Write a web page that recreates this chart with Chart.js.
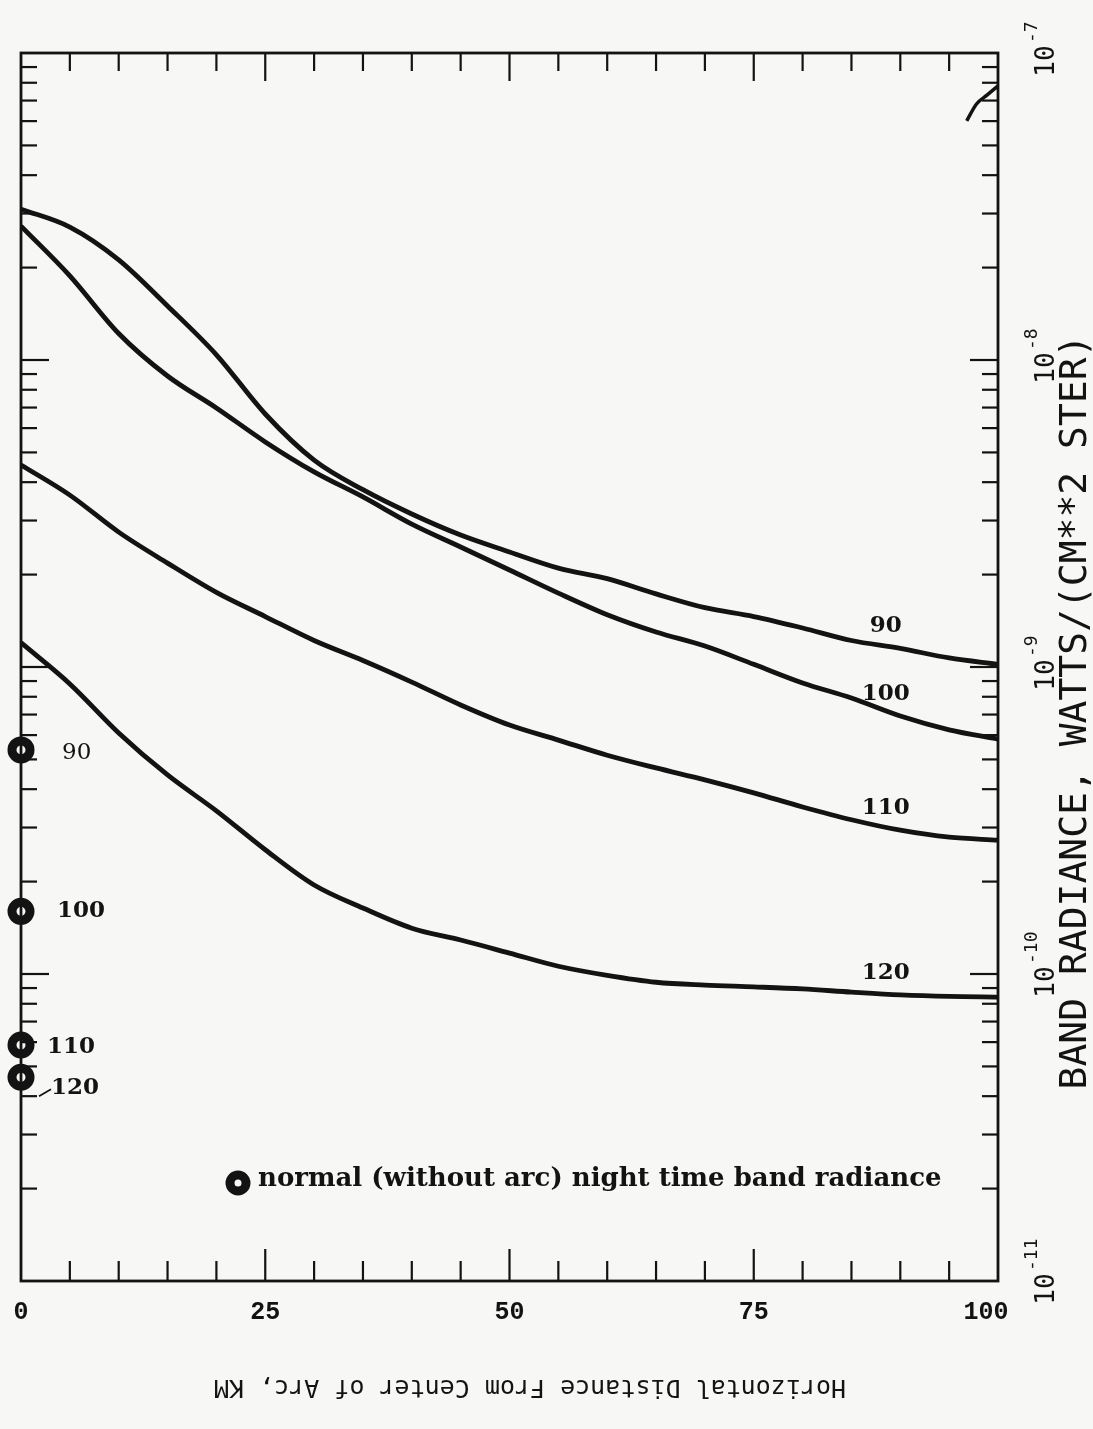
<!DOCTYPE html>
<html>
<head>
<meta charset="utf-8">
<title>Band radiance vs horizontal distance from arc</title>
<script src="https://cdn.jsdelivr.net/npm/chart.js@4.4.0/dist/chart.umd.min.js"></script>
<style>
  html, body { margin: 0; padding: 0; background: #f7f7f5; }
  #wrap { width: 1093px; height: 1429px; }
</style>
</head>
<body>
<div id="wrap"><canvas id="radChart" width="1093" height="1429"></canvas></div>
<script>
// horizontal distance from the centre of the arc, km
const distanceKm = [0, 5, 10, 15, 20, 25, 30, 35, 40, 45, 50, 55, 60, 65, 70, 75, 80, 85, 90, 95, 100];

// band radiance, watts/(cm**2 ster), one curve per altitude
const rad90  = [3.10e-8, 2.71e-8, 2.12e-8, 1.50e-8, 1.04e-8, 6.67e-9, 4.72e-9, 3.78e-9, 3.15e-9, 2.69e-9, 2.37e-9,
                2.10e-9, 1.94e-9, 1.73e-9, 1.56e-9, 1.46e-9, 1.34e-9, 1.22e-9, 1.15e-9, 1.07e-9, 1.02e-9];
const rad100 = [2.73e-8, 1.88e-8, 1.22e-8, 8.87e-9, 6.98e-9, 5.41e-9, 4.32e-9, 3.58e-9, 2.92e-9, 2.46e-9, 2.07e-9,
                1.74e-9, 1.48e-9, 1.30e-9, 1.17e-9, 1.02e-9, 8.87e-10, 7.92e-10, 6.92e-10, 6.24e-10, 5.82e-10];
const rad110 = [4.55e-9, 3.63e-9, 2.75e-9, 2.18e-9, 1.75e-9, 1.46e-9, 1.22e-9, 1.05e-9, 8.93e-10, 7.52e-10, 6.47e-10,
                5.78e-10, 5.16e-10, 4.69e-10, 4.29e-10, 3.89e-10, 3.50e-10, 3.18e-10, 2.94e-10, 2.79e-10, 2.73e-10];
const rad120 = [1.20e-9, 8.81e-10, 6.10e-10, 4.45e-10, 3.40e-10, 2.54e-10, 1.95e-10, 1.64e-10, 1.41e-10, 1.29e-10, 1.17e-10,
                1.06e-10, 9.90e-11, 9.40e-11, 9.20e-11, 9.08e-11, 8.94e-11, 8.73e-11, 8.55e-11, 8.45e-11, 8.41e-11];
const altitudes = ['90', '100', '110', '120'];

// short stroke at the top right corner
const strokeKm  = [96.8, 97.8, 98.9, 100];
const strokeRad = [6.01e-8, 6.82e-8, 7.30e-8, 7.81e-8];

// normal (without arc) night time band radiance, plotted at 0 km
const normalRad = [5.37e-10, 1.60e-10, 5.87e-11, 4.61e-11];

// axis labels
const xTickLabels = [0, 25, 50, 75, 100];
const decadeValues = [1e-7, 1e-8, 1e-9, 1e-10, 1e-11];
const decadeExps = ['-7', '-8', '-9', '-10', '-11'];

const ink = '#131313';
const paper = '#f7f7f5';

function pts(xs, ys) {
  return xs.map((x, i) => ({ x: x, y: ys[i] }));
}

function seg(ctx, x1, y1, x2, y2) {
  ctx.beginPath();
  ctx.moveTo(x1, y1);
  ctx.lineTo(x2, y2);
  ctx.stroke();
}

function curve(values) {
  return {
    data: pts(distanceKm, values),
    borderColor: ink,
    borderWidth: 4.8,
    pointRadius: 0,
    cubicInterpolationMode: 'monotone',
    fill: false
  };
}

// frame, inward ticks and all the lettering
const paperPlot = {
  id: 'paperPlot',
  beforeDraw(chart) {
    const ctx = chart.ctx;
    ctx.save();
    ctx.fillStyle = paper;
    ctx.fillRect(0, 0, chart.width, chart.height);
    ctx.restore();
  },
  afterDraw(chart) {
    const { ctx, chartArea: a, scales: { x, y } } = chart;
    ctx.save();
    ctx.strokeStyle = ink;
    ctx.fillStyle = ink;
    ctx.lineCap = 'butt';

    // frame
    ctx.lineWidth = 2.8;
    ctx.strokeRect(a.left, a.top, a.right - a.left, a.bottom - a.top);

    // distance ticks every 5 km, longer every 25 km
    ctx.lineWidth = 2.2;
    for (let km = 5; km < 100; km += 5) {
      const px = x.getPixelForValue(km);
      const major = km % 25 === 0;
      seg(ctx, px, a.top, px, a.top + (major ? 28 : 18));
      seg(ctx, px, a.bottom, px, a.bottom - (major ? 32 : 20));
    }

    // log ticks on both sides
    for (let e = -11; e < -7; e++) {
      for (let m = 1; m <= 9; m++) {
        if (m === 1 && e === -11) continue;
        const py = y.getPixelForValue(m * Math.pow(10, e));
        const len = m === 1 ? 28 : 16;
        seg(ctx, a.left, py, a.left + len, py);
        seg(ctx, a.right, py, a.right - len, py);
      }
    }

    // distance labels
    ctx.font = 'bold 25px "Liberation Mono"';
    ctx.textAlign = 'center';
    ctx.textBaseline = 'middle';
    xTickLabels.forEach(v => {
      const px = x.getPixelForValue(v) - (v === 100 ? 12 : 0);
      ctx.fillText(String(v), px, a.bottom + 32);
    });

    // radiance decade labels, written sideways
    decadeValues.forEach((v, i) => {
      const py = y.getPixelForValue(v);
      ctx.save();
      ctx.translate(a.right + 49, py + 8);
      ctx.rotate(-Math.PI / 2);
      ctx.font = '26px "DejaVu Sans Mono"';
      ctx.textAlign = 'center';
      ctx.textBaseline = 'middle';
      ctx.fillText('10', 0, 0);
      ctx.font = '18px "DejaVu Sans Mono"';
      ctx.textAlign = 'left';
      ctx.fillText(decadeExps[i], 18, -15);
      ctx.restore();
    });

    // axis titles
    ctx.save();
    ctx.translate(1076, 712);
    ctx.rotate(-Math.PI / 2);
    ctx.font = '38px "DejaVu Sans Mono"';
    ctx.textAlign = 'center';
    ctx.textBaseline = 'middle';
    ctx.fillText('BAND RADIANCE, WATTS/(CM**2 STER)', 0, 0);
    ctx.restore();

    ctx.save();
    ctx.translate(530, 1386);
    ctx.rotate(Math.PI);
    ctx.font = '25px "DejaVu Sans Mono"';
    ctx.textAlign = 'center';
    ctx.textBaseline = 'middle';
    ctx.fillText('Horizontal Distance From Center of Arc, KM', 0, 0);
    ctx.restore();

    // altitude labels at the right ends of the curves
    ctx.font = 'bold 23px "DejaVu Serif"';
    ctx.textAlign = 'center';
    ctx.textBaseline = 'middle';
    const ends = [rad90, rad100, rad110, rad120];
    const ix = distanceKm.indexOf(90);
    ends.forEach((s, i) => {
      const px = x.getPixelForValue(88.5);
      const py = y.getPixelForValue(s[ix]) - 22;
      ctx.fillText(altitudes[i], px, py);
    });

    // altitude labels beside the normal radiance markers
    ctx.textAlign = 'left';
    normalRad.forEach((v, i) => {
      const px = x.getPixelForValue(0);
      const py = y.getPixelForValue(v);
      ctx.font = (i === 0 ? '' : 'bold ') + '23px "DejaVu Serif"';
      const dx = [41, 36, 26, 30][i];
      const dy = [3, 0, 2, 11][i];
      ctx.fillText(altitudes[i], px + dx, py + dy);
    });
    ctx.lineWidth = 1.8;
    const p120 = y.getPixelForValue(normalRad[3]);
    seg(ctx, a.left + 18, p120 + 19, a.left + 30, p120 + 12);

    // key for the marker
    const kx = 238, ky = 1183;
    ctx.lineWidth = 9;
    ctx.beginPath();
    ctx.arc(kx, ky, 8, 0, Math.PI * 2);
    ctx.stroke();
    ctx.font = 'bold 26px "DejaVu Serif"';
    ctx.textAlign = 'left';
    ctx.textBaseline = 'middle';
    ctx.fillText('normal (without arc) night time band radiance', kx + 20, ky - 4);

    ctx.restore();
  }
};

const chart = new Chart(document.getElementById('radChart'), {
  type: 'line',
  data: {
    datasets: [
      curve(rad90),
      curve(rad100),
      curve(rad110),
      curve(rad120),
      {
        data: pts(strokeKm, strokeRad),
        borderColor: ink,
        borderWidth: 3.5,
        pointRadius: 0,
        cubicInterpolationMode: 'monotone',
        clip: false
      },
      {
        type: 'scatter',
        data: normalRad.map(v => ({ x: 0, y: v })),
        pointStyle: 'circle',
        pointRadius: 9,
        pointBorderWidth: 9,
        pointBackgroundColor: paper,
        pointBorderColor: ink,
        showLine: false,
        clip: false
      }
    ]
  },
  options: {
    responsive: false,
    animation: false,
    devicePixelRatio: 1,
    layout: { padding: { left: 21, right: 95, top: 53, bottom: 148 } },
    plugins: {
      legend: { display: false },
      tooltip: { enabled: false }
    },
    scales: {
      x: { type: 'linear', min: 0, max: 100, display: false },
      y: { type: 'logarithmic', min: 1e-11, max: 1e-7, display: false }
    }
  },
  plugins: [paperPlot]
});
</script>
</body>
</html>
